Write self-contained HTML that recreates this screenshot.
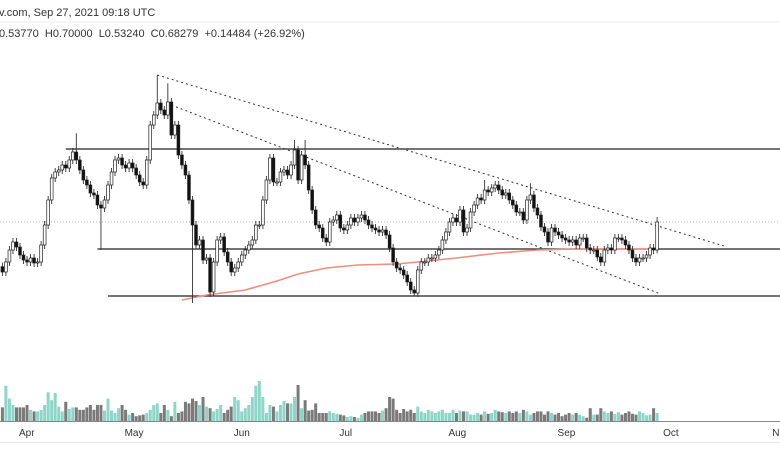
<!DOCTYPE html>
<html><head><meta charset="utf-8">
<style>
html,body{margin:0;padding:0;background:#fff;}
svg{display:block;font-family:"Liberation Sans",sans-serif;}
</style></head>
<body>
<svg id="chart" width="780" height="470" viewBox="0 0 780 470">
  <text x="-1" y="16" font-size="11" fill="#333">v.com, Sep 27, 2021 09:18 UTC</text>
  <line x1="0" y1="22" x2="780" y2="22" stroke="#eee"/>
  <text x="-1" y="37" font-size="11" fill="#333" xml:space="preserve">0.53770  H0.70000  L0.53240  C0.68279  +0.14484 (+26.92%)</text>
  <g id="overlay"></g>
  <g id="volumes"></g>
  <g id="candles"></g>
  <line x1="0" y1="421.5" x2="780" y2="421.5" stroke="#888" stroke-width="1"/>
  <line x1="0" y1="442.5" x2="780" y2="442.5" stroke="#e6e6e6"/>
  <g id="xaxis"></g>
</svg>
<script>
const closes=[0.534,0.564,0.600,0.624,0.609,0.585,0.570,0.564,0.576,0.561,0.564,0.615,0.675,0.750,0.816,0.834,0.840,0.855,0.846,0.870,0.894,0.870,0.840,0.810,0.795,0.771,0.765,0.735,0.726,0.750,0.795,0.834,0.870,0.876,0.855,0.846,0.861,0.846,0.825,0.804,0.795,0.870,0.975,1.005,1.041,1.020,1.005,1.044,0.945,0.975,0.885,0.855,0.825,0.750,0.675,0.615,0.630,0.570,0.576,0.474,0.564,0.630,0.639,0.594,0.564,0.534,0.546,0.564,0.585,0.600,0.615,0.630,0.675,0.675,0.750,0.810,0.876,0.804,0.804,0.834,0.840,0.825,0.855,0.900,0.810,0.885,0.855,0.780,0.720,0.675,0.666,0.636,0.624,0.684,0.690,0.705,0.666,0.660,0.675,0.696,0.684,0.696,0.705,0.690,0.675,0.666,0.660,0.654,0.660,0.645,0.606,0.564,0.546,0.540,0.525,0.504,0.480,0.471,0.540,0.564,0.564,0.576,0.576,0.585,0.600,0.630,0.654,0.684,0.696,0.684,0.720,0.654,0.666,0.714,0.735,0.756,0.750,0.780,0.774,0.786,0.795,0.780,0.765,0.771,0.750,0.735,0.714,0.714,0.690,0.750,0.765,0.726,0.705,0.669,0.654,0.624,0.666,0.654,0.645,0.636,0.630,0.624,0.630,0.615,0.636,0.636,0.606,0.600,0.600,0.579,0.564,0.600,0.606,0.600,0.636,0.636,0.630,0.615,0.600,0.576,0.564,0.576,0.576,0.585,0.606,0.600,0.684];
const firstOpen=0.550;
const wickSize=0.012;
const wickOverrides=[[44,1.125,null],[47,1.10,null],[54,null,0.441],[59,null,0.459],[28,null,0.60],[21,0.95,null],[83,0.93,null],[86,0.93,null],[117,null,0.462],[137,0.81,null],[186,0.699,0.59],[150,0.80,null]];
const volumes=[17,44,28,20,17,17,17,20,14,12,12,14,20,36,26,35,18,12,24,15,17,17,14,14,17,20,14,20,20,13,28,13,10,16,20,14,8,10,6,7,8,10,14,20,22,10,20,14,6,24,10,12,24,22,28,25,20,30,18,16,12,15,20,10,14,18,30,26,12,16,20,30,44,50,30,10,20,18,12,20,25,22,22,30,45,16,26,13,14,22,10,10,10,12,10,9,8,7,5,6,5,4,8,10,12,12,12,10,13,16,30,28,14,10,15,12,14,10,18,12,10,14,12,10,12,14,10,10,14,10,13,12,12,8,8,10,8,12,9,10,14,12,11,10,12,10,12,10,14,12,8,10,12,12,8,12,10,8,10,6,8,10,8,10,8,6,4,16,8,8,16,12,10,12,9,11,8,10,12,9,8,12,10,7,8,16];
const maIndex=[51,58,69,78,84,92,101,112,118,129,141,152,163,186];
const maValues=[0.450,0.465,0.480,0.507,0.528,0.546,0.555,0.558,0.564,0.576,0.591,0.600,0.603,0.603];
const monthLabels=["Apr","May","Jun","Jul","Aug","Sep","Oct","Nov"];
const monthIndex=[5,35,66,96,127,158,188,219];
const levelPrices=[0.903,0.603,0.462];
const levelStart=[18,27,30];
const currentPrice=0.684;
const trendFrom=[[44,1.125],[48,1.035]];
const trendTo=[[205,0.612],[187,0.468]];

const NS="http://www.w3.org/2000/svg";
const xs=i=>20+(i-5)*3.52;
const ys=p=>450-p/0.003;
const vy=v=>421-v*0.8;
function mk(tag,attrs,parent){const e=document.createElementNS(NS,tag);for(const k in attrs)e.setAttribute(k,attrs[k]);parent.appendChild(e);return e;}
const ov=document.getElementById('overlay'),cg=document.getElementById('candles'),vg=document.getElementById('volumes'),xg=document.getElementById('xaxis');

let el=mk('line',{x1:0,x2:780,y1:ys(currentPrice),y2:ys(currentPrice),stroke:'#999','stroke-width':0.8,'stroke-dasharray':'1,2'},ov);


levelPrices.forEach((p,k)=>{
  const l=mk('line',{x1:xs(levelStart[k]),x2:780,y1:ys(p),y2:ys(p),stroke:'#222','stroke-width':1.3},ov);
  
  
});
trendFrom.forEach((a,k)=>{
  const b=trendTo[k];
  const l=mk('line',{x1:xs(a[0]),y1:ys(a[1]),x2:xs(b[0]),y2:ys(b[1]),stroke:'#333','stroke-width':1,'stroke-dasharray':'2,3'},ov);
  
  
});
let d='';
maIndex.forEach((i,k)=>{d+=(k?'L':'M')+xs(i).toFixed(1)+','+ys(maValues[k]).toFixed(1);});
el=mk('path',{d:d,fill:'none',stroke:'#f08c80','stroke-width':1.6},ov);



const ovr={};wickOverrides.forEach(w=>ovr[w[0]]=w);
closes.forEach((c,i)=>{
  const o=i?closes[i-1]:firstOpen;
  let hi=Math.max(o,c)+wickSize,lo=Math.min(o,c)-wickSize;
  if(ovr[i]){if(ovr[i][1]!=null)hi=ovr[i][1];if(ovr[i][2]!=null)lo=ovr[i][2];}
  const x=xs(i),up=c>=o;
  const g=mk('g',{},cg);
  
  
  mk('line',{x1:x,x2:x,y1:ys(hi),y2:ys(lo),stroke:'#333','stroke-width':0.9},g);
  const top=ys(Math.max(o,c)),h=Math.max(1,ys(Math.min(o,c))-top);
  mk('rect',{x:x-1.4,y:top,width:2.8,height:h,fill:up?'#fff':'#111',stroke:'#222','stroke-width':0.7},g);
  const v=volumes[i]!=null?volumes[i]:10;
  const b=mk('rect',{x:x-1.5,y:vy(v),width:3,height:421-vy(v),fill:up?'#8fd4c9':'#7a7a7a'},vg);
  
  
});
monthLabels.forEach((m,k)=>{
  const t=mk('text',{x:xs(monthIndex[k])-1,y:436,'font-size':10,fill:'#333'},xg);
  t.textContent=m;
  
  
});
</script>
</body></html>
